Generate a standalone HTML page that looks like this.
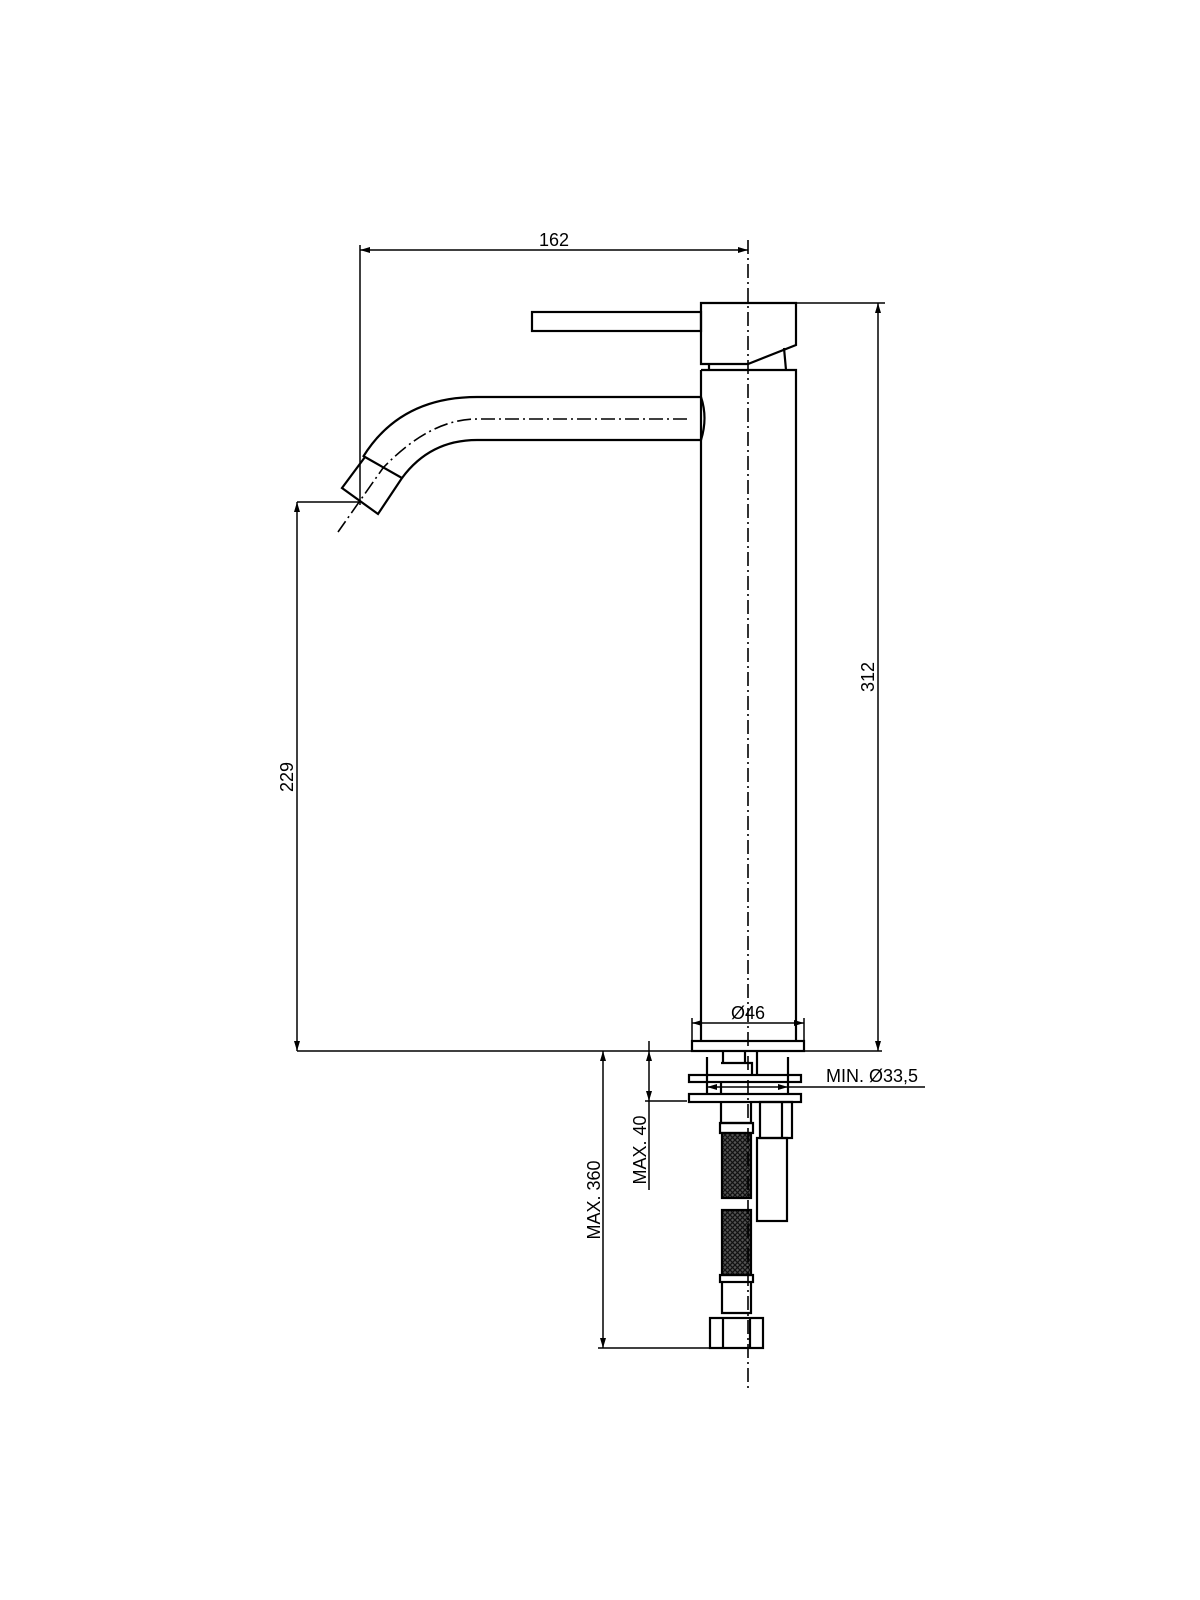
<!DOCTYPE html>
<html><head><meta charset="utf-8"><style>html,body{margin:0;padding:0;background:#fff}svg{display:block}</style></head>
<body>
<svg width="1200" height="1600" viewBox="0 0 1200 1600" xmlns="http://www.w3.org/2000/svg">
<defs>
<pattern id="h" width="5" height="5" patternUnits="userSpaceOnUse">
<rect width="5" height="5" fill="#555"/>
<path d="M0 5L5 0M0 0L5 5" stroke="#111" stroke-width="1.3"/>
</pattern>
</defs>
<g fill="none" stroke="#000" stroke-width="2.2">
<rect x="532" y="312" width="169" height="19"/>
<path d="M701 303H796V345L748 364H701Z"/>
<path d="M709 364V370M784 348L786 370"/>
<path d="M701 370H796V1041M701 370V1041"/>
<path d="M701 397H477Q400 397 363 457"/>
<path d="M701 440H477Q430 440 402 478"/>
<path d="M701 397Q708 418 701 440"/>
<path d="M365 457L402 478L378 514L342 488Z"/>
<rect x="692" y="1041" width="112" height="10"/>
<path d="M723 1051V1063H745V1051M721 1063H752V1075"/>
<path d="M707 1057V1094M788 1057V1094M757 1051V1075"/>
<rect x="689" y="1075" width="112" height="7"/>
<rect x="689" y="1094" width="112" height="8"/>
<path d="M721 1082V1094M721 1102V1123H751V1102"/>
<rect x="720" y="1123" width="33" height="10"/>
<rect x="722" y="1133" width="29" height="65" fill="url(#h)"/>
<rect x="722" y="1210" width="29" height="65" fill="url(#h)"/>
<rect x="720" y="1275" width="33" height="7"/>
<path d="M722 1282V1313H751V1282"/>
<rect x="710" y="1318" width="53" height="30"/>
<path d="M723 1318V1348M750 1318V1348"/>
<rect x="760" y="1102" width="32" height="36"/>
<path d="M782 1102V1138"/>
<rect x="757" y="1138" width="30" height="83"/>
</g>
<g fill="none" stroke="#000" stroke-width="1.6" stroke-dasharray="14 4 2 4">
<path d="M748 240V1390"/>
<path d="M687 419H477Q430 419 383 468L338 532"/>
</g>
<g fill="none" stroke="#000" stroke-width="1.5">
<path d="M360 245V505M360 250H748"/>
<path d="M796 303H885M878 303V1051"/>
<path d="M297 502H360M297 502V1051M297 1051H692M804 1051H882"/>
<path d="M692 1041V1018M804 1041V1018M692 1023H804"/>
<path d="M707 1087H925"/>
<path d="M649 1041V1190M645 1101H687"/>
<path d="M603 1051V1348M598 1348H710"/>
</g>
<g fill="#000">
<path d="M360 250l10 -3v6zM748 250l-10 -3v6z"/>
<path d="M878 303l-3 10h6zM878 1051l-3 -10h6z"/>
<path d="M297 502l-3 10h6zM297 1051l-3 -10h6z"/>
<path d="M692 1023l10 -3v6zM804 1023l-10 -3v6z"/>
<path d="M649 1051l-3 10h6zM649 1101l-3 -10h6z"/>
<path d="M603 1051l-3 10h6zM603 1348l-3 -10h6z"/>
<path d="M707 1087l10 -3v6zM788 1087l-10 -3v6z"/>
</g>
<g font-family="Liberation Sans, sans-serif" font-size="18" fill="#000" text-anchor="middle">
<text x="554" y="246">162</text>
<text x="748" y="1019">Ø46</text>
<text x="826" y="1082" text-anchor="start">MIN.  Ø33,5</text>
<text transform="translate(874 677) rotate(-90)">312</text>
<text transform="translate(293 777) rotate(-90)">229</text>
<text transform="translate(646 1150) rotate(-90)">MAX. 40</text>
<text transform="translate(600 1200) rotate(-90)">MAX. 360</text>
</g>
</svg>
</body></html>
